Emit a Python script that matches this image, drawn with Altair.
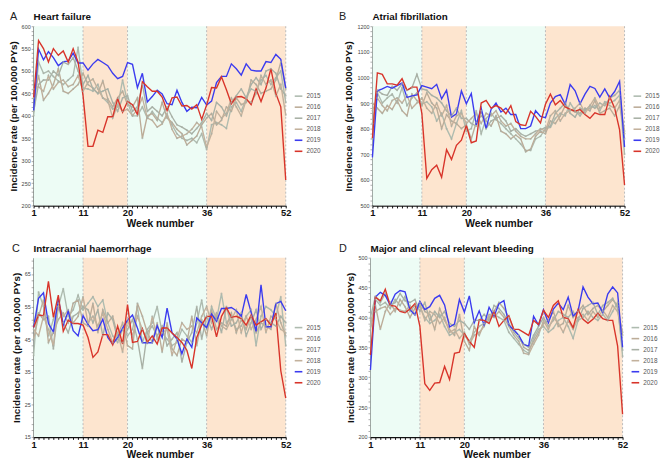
import altair as alt
import pandas as pd

weeks = list(range(1, 53))
years = ["2015", "2016", "2017", "2018", "2019", "2020"]
line_colors = ["#aebbaf", "#bcac98", "#a9b1a6", "#c3b19c", "#3b3bef", "#d8342a"]
MINT = "#edfcf5"
PEACH = "#fde5cf"
FONT = "Liberation Sans"

# Heart failure
hf_2015 = [400, 520, 495, 500, 488, 478, 470, 480, 490, 553, 462, 460, 455, 470, 440, 430, 415, 420, 480, 430,
           400, 400, 420, 395, 410, 395, 385, 400, 380, 360, 350, 345, 350, 340, 360, 325, 380, 385, 380, 372,
           420, 430, 410, 440, 460, 455, 480, 490, 470, 485, 500, 430]
hf_2016 = [440, 490, 435, 450, 470, 505, 455, 450, 460, 470, 495, 470, 462, 450, 478, 438, 420, 440, 455, 425,
           420, 440, 350, 400, 405, 390, 430, 395, 385, 370, 360, 335, 345, 355, 380, 395, 405, 380, 390, 420,
           410, 440, 425, 430, 480, 470, 450, 455, 460, 480, 520, 460]
hf_2017 = [410, 470, 480, 480, 500, 490, 520, 515, 530, 500, 470, 490, 460, 450, 455, 460, 430, 410, 440, 445,
           410, 420, 470, 410, 420, 410, 400, 420, 398, 380, 375, 368, 360, 372, 385, 405, 390, 430, 420, 400,
           430, 445, 460, 440, 470, 485, 470, 500, 505, 495, 460, 445]
hf_2018 = [460, 465, 455, 490, 460, 475, 480, 465, 470, 490, 455, 475, 482, 460, 440, 435, 395, 425, 410, 415,
           400, 415, 440, 395, 390, 375, 382, 405, 370, 350, 355, 360, 370, 385, 375, 330, 360, 410, 395, 405,
           440, 420, 400, 435, 430, 450, 490, 470, 480, 445, 470, 402]
hf_2019 = [412, 549, 525, 543, 530, 512, 521, 522, 540, 518, 518, 502, 516, 526, 519, 512, 495, 483, 488, 519,
           515, 463, 495, 431, 443, 457, 449, 427, 425, 457, 430, 410, 419, 418, 441, 424, 433, 474, 488, 488,
           516, 505, 491, 516, 502, 500, 500, 521, 519, 537, 526, 462]
hf_2020 = [440, 568, 550, 520, 550, 535, 545, 520, 550, 520, 445, 332, 332, 368, 363, 398, 398, 438, 408, 432,
           425, 403, 476, 465, 455, 455, 442, 412, 440, 442, 422, 423, 415, 425, 392, 424, 463, 462, 487, 458,
           427, 442, 443, 438, 425, 460, 432, 462, 505, 450, 420, 257]

# Atrial fibrillation
af_2015 = [760, 940, 900, 920, 935, 900, 960, 890, 920, 940, 895, 905, 885, 830, 860, 800, 760, 820, 870, 790,
           800, 870, 780, 840, 860, 835, 820, 800, 780, 760, 740, 715, 715, 760, 770, 800, 805, 840, 860, 850,
           900, 870, 850, 875, 880, 890, 870, 905, 900, 910, 930, 700]
af_2016 = [900, 880, 860, 890, 875, 910, 870, 850, 935, 910, 890, 940, 900, 880, 800, 855, 830, 820, 800, 815,
           760, 825, 850, 830, 810, 850, 790, 780, 760, 775, 760, 710, 720, 770, 790, 780, 830, 820, 850, 890,
           875, 865, 860, 880, 870, 910, 860, 870, 880, 850, 890, 790]
af_2017 = [820, 950, 935, 930, 965, 950, 975, 950, 960, 1012, 955, 950, 930, 920, 900, 870, 850, 880, 840, 840,
           820, 810, 870, 800, 830, 840, 850, 830, 790, 800, 780, 770, 780, 790, 795, 805, 810, 860, 880, 900,
           860, 845, 880, 870, 890, 880, 900, 890, 920, 930, 950, 760]
af_2018 = [870, 920, 890, 870, 910, 920, 900, 930, 880, 900, 920, 880, 860, 900, 850, 890, 810, 850, 860, 820,
           840, 860, 820, 860, 850, 870, 830, 810, 820, 790, 770, 760, 760, 780, 800, 790, 850, 870, 830, 860,
           870, 880, 900, 860, 890, 920, 880, 900, 890, 880, 910, 780]
af_2019 = [688, 948, 955, 965, 958, 968, 978, 922, 928, 932, 968, 962, 956, 973, 916, 950, 845, 858, 947, 897,
           937, 815, 880, 800, 875, 900, 865, 880, 855, 855, 800, 800, 810, 870, 848, 843, 900, 925, 933, 895,
           972, 948, 897, 935, 965, 957, 923, 955, 920, 945, 985, 728]
af_2020 = [762, 1018, 1012, 975, 975, 970, 995, 950, 962, 962, 860, 606, 640, 657, 610, 718, 680, 735, 755, 812,
           745, 752, 900, 910, 880, 890, 880, 858, 890, 828, 815, 812, 868, 848, 822, 895, 935, 893, 910, 885,
           875, 868, 875, 855, 840, 862, 855, 855, 925, 880, 795, 580]

# Intracranial haemorrhage
ich_2015 = [40, 59.5, 55, 46, 51, 55, 60.5, 52, 54, 58.5, 54, 56, 58, 55, 57, 50, 46, 44, 48, 46,
            48, 55, 44, 48, 50, 55, 47, 45, 43, 44, 48, 46, 44, 50, 57, 48, 55, 51, 59, 50,
            52, 48, 49, 52, 54, 43, 52, 55, 54, 52, 58, 43]
ich_2016 = [45, 52, 57, 44, 47, 51, 53, 50, 56, 57, 50, 49, 56, 47, 54, 50, 52, 46, 50, 43,
            42, 56, 52, 47, 44, 50, 41, 50, 42, 40, 45, 44, 52, 43, 51, 46, 54, 48, 50, 49,
            53, 47, 51, 48, 52, 47, 50, 49, 48, 56, 50, 46]
ich_2017 = [50, 53, 51, 52, 42, 55, 50, 47, 52, 53, 55, 54, 50, 54, 46, 53, 51, 45, 44, 48,
            51, 45, 36, 47, 49, 46, 49, 43, 45, 47, 38, 44, 47, 55, 45, 52, 48, 52, 47, 55,
            49, 50, 53, 46, 50, 54, 48, 51, 50, 49, 52, 50]
ich_2018 = [48, 46, 52, 48, 43, 56, 52, 54, 50, 52, 58, 50, 52, 49, 53, 48, 44, 47, 41, 51,
            46, 52, 48, 44, 52, 45, 47, 48, 40, 45, 50, 48, 49, 47, 52, 55, 50, 53, 49, 48,
            51, 54, 47, 52, 48, 51, 55, 47, 52, 51, 48, 47]
ich_2019 = [48.6, 57.5, 59.2, 49.8, 47.2, 57.4, 49.3, 53.6, 47.6, 46, 52.2, 49.5, 47.6, 47.9, 51.1, 45.5, 43.5, 45.5, 48.4, 50.8,
            52.4, 48.4, 43.9, 43.9, 43.9, 49.1, 45.5, 54.5, 47, 45, 40.5, 45, 42.5, 51.5, 50, 48.5, 52.7, 50.5, 54.4, 54.4,
            54.7, 53.7, 52, 58.7, 53.2, 47.4, 61.7, 48.8, 48.8, 55.9, 56.6, 53.7]
ich_2020 = [48.6, 52.4, 52.2, 62.7, 51.7, 58.5, 47.4, 50.8, 49.8, 49.8, 49.3, 45.5, 39.4, 41.1, 46.4, 46.4, 43.3, 49, 43.5, 55.6,
            44, 44.3, 48.2, 44, 46, 43.5, 48.4, 48.4, 46.9, 45.5, 44, 41.6, 36, 45.5, 49.3, 52, 52, 45.7, 52, 54.7,
            51.7, 52, 51.3, 49.3, 52.4, 49.3, 50.3, 51.3, 49.3, 53, 35.3, 26.9]

# Major and clinically relevant bleeding
bl_2015 = [385, 430, 420, 425, 415, 430, 420, 435, 410, 420, 418, 400, 390, 395, 405, 385, 370, 375, 380, 370,
           360, 375, 385, 390, 395, 405, 400, 395, 375, 365, 355, 345, 340, 365, 380, 385, 375, 382, 395, 400,
           385, 365, 395, 400, 410, 400, 395, 405, 395, 410, 425, 335]
bl_2016 = [380, 420, 380, 410, 425, 410, 430, 418, 400, 415, 425, 410, 405, 380, 415, 395, 380, 370, 405, 360,
           345, 385, 370, 390, 400, 410, 425, 415, 400, 380, 370, 350, 345, 360, 375, 390, 395, 410, 385, 390,
           420, 400, 410, 420, 405, 415, 420, 410, 420, 430, 420, 370]
bl_2017 = [400, 435, 425, 440, 420, 425, 440, 428, 425, 430, 410, 425, 395, 410, 400, 410, 390, 385, 395, 390,
           380, 395, 395, 405, 395, 420, 415, 405, 390, 375, 365, 355, 350, 370, 385, 400, 385, 395, 410, 405,
           400, 410, 395, 415, 420, 425, 405, 420, 425, 432, 415, 345]
bl_2018 = [395, 410, 415, 418, 405, 415, 412, 410, 420, 405, 420, 395, 410, 405, 390, 400, 375, 380, 365, 375,
           355, 370, 375, 385, 405, 400, 410, 400, 385, 370, 360, 340, 338, 355, 370, 395, 380, 400, 390, 375,
           395, 380, 400, 405, 395, 410, 400, 412, 400, 420, 410, 375]
bl_2019 = [312, 434, 442, 437, 421, 439, 445, 443, 413, 404, 427, 413, 418, 432, 437, 421, 384, 389, 430, 409,
           436, 391, 411, 387, 417, 402, 423, 428, 387, 379, 370, 355, 352, 402, 387, 413, 391, 414, 424, 413,
           434, 402, 411, 451, 434, 423, 424, 408, 439, 451, 441, 350]
bl_2020 = [337, 434, 428, 447, 420, 419, 410, 408, 414, 423, 385, 289, 278, 290, 291, 318, 296, 340, 342, 373,
           360, 350, 396, 395, 390, 410, 385, 395, 403, 380, 380, 375, 370, 395, 388, 412, 400, 420, 428, 400,
           398, 383, 413, 397, 390, 397, 407, 398, 395, 395, 352, 238]

period_start = [1, 11, 20, 36]
period_end = [11, 20, 36, 52]
period_fill = [MINT, PEACH, MINT, PEACH]
boundary_weeks = [11, 20, 36, 52]

W, H = 256, 182


def panel(letter, title, series, ymin, ymax, major, minor, letter_x, legend_y):
    rows = []
    for yr, vals in zip(years, series):
        for w, v in zip(weeks, vals):
            rows.append({"week": w, "year": yr, "value": v})
    df = pd.DataFrame(rows)
    bands = pd.DataFrame({"start": period_start, "end": period_end, "fill": period_fill,
                          "lo": [ymin] * 4, "hi": [ymax] * 4})
    rules = pd.DataFrame({"week": boundary_weeks})

    yvals = []
    v = ymin
    while v <= ymax + 1e-9:
        yvals.append(round(v, 4))
        v += minor

    xscale = alt.Scale(domain=[1, 52], nice=False, zero=False)
    yscale = alt.Scale(domain=[ymin, ymax], nice=False, zero=False)
    xaxis = alt.Axis(values=weeks, title="Week number",
                     labelExpr="indexof([1,11,20,36,52], datum.value) >= 0 ? datum.label : ''",
                     labelFont=FONT, labelFontSize=9.5, labelFontWeight="bold", labelColor="#111",
                     labelPadding=0, labelOverlap=False, labelFlush=False,
                     titleFont=FONT, titleFontSize=10.5, titleFontWeight="bold", titleColor="#111",
                     titlePadding=1, tickColor="#111", tickSize=2.5, tickWidth=1,
                     domainColor="#111", domainWidth=1.5, grid=False)
    yaxis = alt.Axis(values=yvals, title="Incidence rate (per 100,000 PYs)", format="d",
                     labelExpr=f"(datum.value - {ymin}) % {major} === 0 ? datum.label : ''",
                     labelFont=FONT, labelFontSize=5.5, labelColor="#444", labelPadding=1,
                     labelOverlap=False, labelFlush=False,
                     titleFont=FONT, titleFontSize=10, titleFontWeight="bold", titleColor="#111",
                     titlePadding=3, tickColor="#999", tickSize=2.5, tickWidth=0.8,
                     domainColor="#111", domainWidth=1.5, grid=False)

    base_x = lambda f: alt.X(f, type="quantitative", scale=xscale, axis=xaxis)
    base_y = lambda f: alt.Y(f, type="quantitative", scale=yscale, axis=yaxis)

    band_layer = alt.Chart(bands).mark_rect().encode(
        x=base_x("start"), x2="end", y=base_y("lo"), y2="hi",
        fill=alt.Fill("fill:N", scale=None))
    rule_layer = alt.Chart(rules).mark_rule(color="#bbb", strokeDash=[2, 2], strokeWidth=1).encode(
        x=base_x("week"))
    line_layer = alt.Chart(df).mark_line(strokeWidth=1.4).encode(
        x=base_x("week"), y=base_y("value"),
        color=alt.Color("year:N", scale=alt.Scale(domain=years, range=line_colors),
                        legend=alt.Legend(title=None, orient="none", legendX=W + 8, legendY=legend_y,
                                          symbolType="stroke", symbolSize=60, symbolStrokeWidth=1.6,
                                          labelFont=FONT, labelFontSize=6.5, labelColor="#555",
                                          rowPadding=2.2, labelOffset=3)),
        detail="year:N")
    point_layer = alt.Chart(df).transform_filter(
        "datum.year < '2019'").mark_point(filled=True, size=4, opacity=0.7).encode(
        x=base_x("week"), y=base_y("value"),
        color=alt.value("#a8afa5"))
    letter_layer = alt.Chart(pd.DataFrame({"t": [letter]})).mark_text(
        align="left", baseline="bottom", font=FONT, fontSize=11, color="#222").encode(
        x=alt.value(letter_x), y=alt.value(-4), text="t:N")
    title_layer = alt.Chart(pd.DataFrame({"t": [title]})).mark_text(
        align="left", baseline="bottom", font=FONT, fontSize=10, fontWeight="bold", color="#111").encode(
        x=alt.value(0), y=alt.value(-4), text="t:N")
    return alt.layer(band_layer, rule_layer, line_layer, point_layer, letter_layer, title_layer).properties(
        width=W, height=H)


pA = panel("A", "Heart failure", [hf_2015, hf_2016, hf_2017, hf_2018, hf_2019, hf_2020],
           200, 600, 50, 10, -24, 66)
pB = panel("B", "Atrial fibrillation", [af_2015, af_2016, af_2017, af_2018, af_2019, af_2020],
           500, 1200, 100, 20, -34, 66)
pC = panel("C", "Intracranial haemorrhage", [ich_2015, ich_2016, ich_2017, ich_2018, ich_2019, ich_2020],
           15, 70, 10, 2, -22, 66)
pD = panel("D", "Major and clincal relevant bleeding", [bl_2015, bl_2016, bl_2017, bl_2018, bl_2019, bl_2020],
           200, 500, 50, 10, -32, 66)

top = alt.hconcat(pA, pB, spacing=18).resolve_scale(color="independent", x="independent", y="independent")
bottom = alt.hconcat(pC, pD, spacing=18).resolve_scale(color="independent", x="independent", y="independent")
chart = alt.vconcat(top, bottom, spacing=14).resolve_scale(
    color="independent", x="independent", y="independent").properties(
    padding=0, background="white").configure_view(stroke=None)

chart.save("out.html", embed_options={"renderer": "svg", "actions": False})
